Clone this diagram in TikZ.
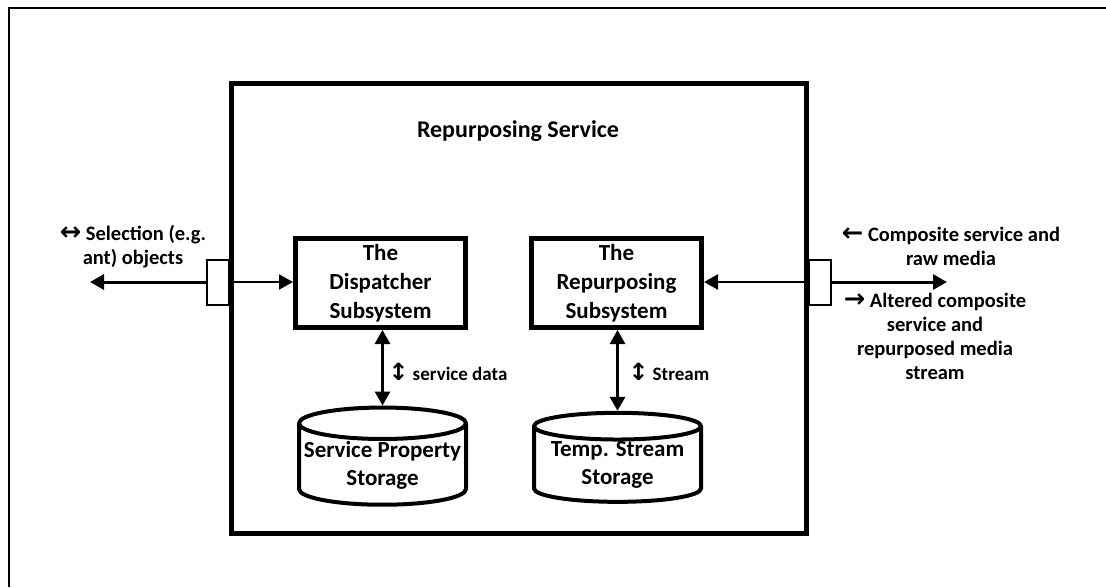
\documentclass[tikz,border=0pt]{standalone}
\usepackage{fontspec}
\setmainfont{Carlito}
\newfontfamily\arrowfont[Scale=1.25]{DejaVu Sans}
\usetikzlibrary{arrows.meta,shapes.geometric}

\tikzset{
  subsys/.style={draw, line width=5pt, minimum width=170pt, minimum height=89pt,
    inner sep=0pt, align=center, font=\bfseries\fontsize{23}{29}\selectfont},
  store/.style={draw, cylinder, shape border rotate=90, aspect=0.2, line width=4pt,
    minimum width=167pt, minimum height=89pt, inner sep=0pt, align=center,
    font=\bfseries\fontsize{23}{28}\selectfont},
  port/.style={draw, fill=white, line width=2pt, minimum width=22pt,
    minimum height=45pt, inner sep=0pt},
  lbl/.style={align=center, font=\bfseries\fontsize{20.5}{24}\selectfont},
  inlbl/.style={anchor=west, font=\bfseries\fontsize{19}{24}\selectfont},
  tip/.tip={Triangle[length=14pt,width=15pt]},
  flow/.style={line width=3pt, -tip},
  both/.style={line width=3pt, tip-tip},
}

\begin{document}
\begin{tikzpicture}[x=1pt,y=-1pt]
  \useasboundingbox (0,0) rectangle (1106,587);
  % frame of the page
  \draw[line width=1.5pt] (9,587) -- (9,8) -- (1106,8);

  % service box
  \node[draw, line width=5pt, minimum width=575pt, minimum height=450pt] (svc) at (518.5,308) {};
  \node[font=\bfseries\fontsize{24}{29}\selectfont] (title) at (518,131) {Repurposing Service};

  \node[subsys] (disp) at (380.5,283) {The\\Dispatcher\\Subsystem};
  \node[subsys] (repu) at (616.5,283) {The\\Repurposing\\Subsystem};

  \node[store] (spstore) at (382.5,465) {Service Property\\Storage};
  \node[store] (tsstore) at (617.5,465) {Temp. Stream\\Storage};

  % ports
  \node[port] (inport) at (218,282) {};
  \node[port] (outport) at (820,282) {};
  \coordinate (selend) at (90,282);
  \coordinate (outend) at (947,282);

  \draw[flow] (inport) -- (selend);
  \draw[flow, line width=2pt] (inport.east) -- (disp.west |- inport.east);
  \draw[flow] (outport) -- (outend);
  \draw[flow, line width=2.5pt] (outport.west) -- (repu.east |- outport.west);

  \draw[both] (disp.south -| spstore.north) -- (spstore.north);
  \draw[both] (repu.south -| tsstore.north) -- (tsstore.north);

  % labels
  \node[lbl] (sellbl) at (133,247) {{\arrowfont ↔} Selection (e.g.\\ant) objects};
  \node[lbl] (inlbl) at (951,246) {{\arrowfont ←} Composite service and\\raw media};
  \node[lbl] (outlbl) at (935,336) {{\arrowfont →} Altered composite\\service and\\repurposed media\\stream};
  \node[inlbl] (datalbl) at (385,372) {{\arrowfont ↕} service data};
  \node[inlbl] (streamlbl) at (625,372) {{\arrowfont ↕} Stream};
\end{tikzpicture}
\end{document}
